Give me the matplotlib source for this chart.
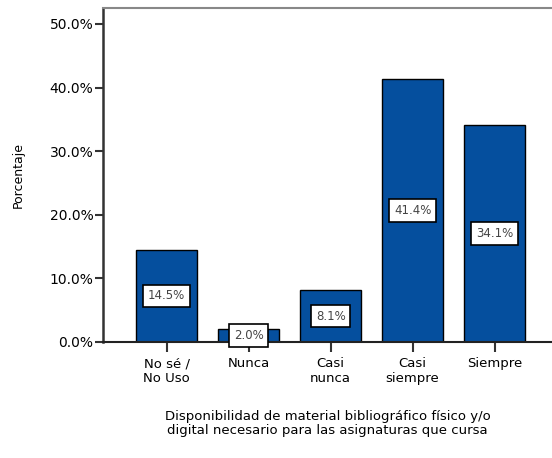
import matplotlib
matplotlib.use('Agg')
from matplotlib import pyplot as plt

categories = ['No sé /\nNo Uso', 'Nunca', 'Casi\nnunca', 'Casi\nsiempre', 'Siempre']
values = [14.5, 2.0, 8.1, 41.4, 34.1]
yticks = [0, 10, 20, 30, 40, 50]

plt.rcParams['font.family'] = ['DejaVu Sans']

fig = plt.figure(figsize=(5.52, 4.58), dpi=100)
ax = fig.add_axes([0.1866, 0.2533, 0.8134, 0.7292])

x = range(len(categories))
ax.bar(x, values, width=0.75, color='#054f9e', edgecolor='black', linewidth=1.0, zorder=2)

for xi, v in zip(x, values):
    ax.text(xi, v / 2, f'{v:.1f}%', ha='center', va='center', fontsize=8.5, color='#444444',
            bbox=dict(boxstyle='square,pad=0.4', facecolor='white', edgecolor='black', linewidth=1.2),
            zorder=3)

ax.set_xlim(-0.777, 4.70)
ax.set_ylim(0, 52.5)
ax.set_yticks(yticks)
ax.set_yticklabels([f'{t:.1f}%' for t in yticks], fontsize=10)
ax.set_xticks(list(x))
ax.set_xticklabels(categories, fontsize=9.5, linespacing=1.15)

ax.tick_params(axis='y', length=6, width=1.5, color='#333333', pad=1)
ax.tick_params(axis='x', length=7, width=1.5, color='#333333', pad=4)

ax.spines['right'].set_visible(False)
ax.spines['left'].set_linewidth(1.8)
ax.spines['left'].set_color('#333333')
ax.spines['top'].set_linewidth(1.5)
ax.spines['top'].set_color('#888888')
ax.spines['bottom'].set_linewidth(1.5)
ax.spines['bottom'].set_color('#222222')

ax.set_ylabel('Porcentaje', fontsize=9, labelpad=18)
ax.set_xlabel('Disponibilidad de material bibliográfico físico y/o\ndigital necesario para las asignaturas que cursa',
              fontsize=9.5, labelpad=18, linespacing=1.15)

fig.savefig('out.png', dpi=100)
